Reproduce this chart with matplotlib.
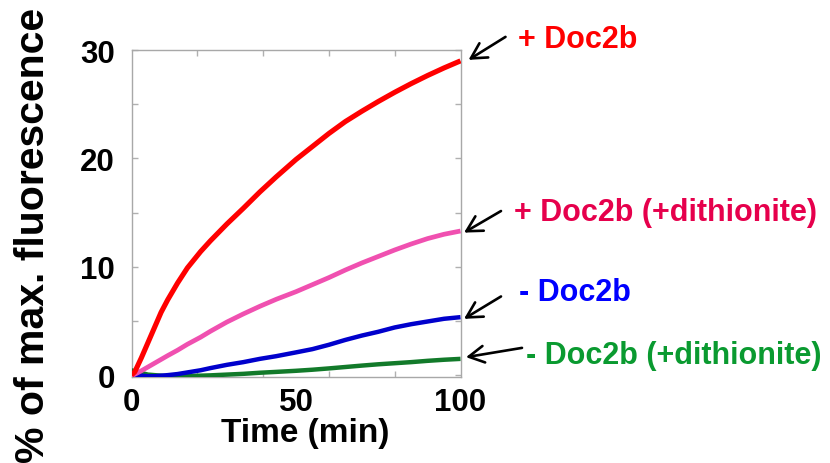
"""
Doc2b fluorescence time course: four traces with arrow labels on the right.
"""

import matplotlib
matplotlib.use("Agg")
import matplotlib.pyplot as plt
from matplotlib.ticker import FixedLocator
from matplotlib.transforms import offset_copy

plt.rcParams["font.family"] = ["Liberation Sans", "DejaVu Sans"]
plt.rcParams["font.weight"] = "bold"

# time points (min)
time_min = [0, 1, 3, 5, 7, 9, 11, 14, 17, 21, 24, 29, 34, 39, 44, 50,
            55, 60, 65, 70, 75, 80, 85, 90, 95, 100]

# % of max. fluorescence
plus_doc2b = [0.0, 0.3, 1.6, 3.0, 4.4, 5.8, 6.95, 8.5, 9.9, 11.4, 12.4, 13.95, 15.4,
              16.9, 18.3, 19.9, 21.1, 22.3, 23.4, 24.35, 25.25, 26.1, 26.9, 27.65, 28.35, 29.0]
plus_doc2b_dith = [0.0, 0.08, 0.4, 0.75, 1.1, 1.45, 1.8, 2.3, 2.85, 3.5, 4.05, 4.9, 5.65,
                   6.35, 7.0, 7.7, 8.35, 9.0, 9.7, 10.35, 10.95, 11.55, 12.1, 12.6, 13.0, 13.3]
minus_doc2b = [0.1, 0.05, -0.05, -0.1, -0.1, -0.05, 0.0, 0.1, 0.25, 0.45, 0.65, 0.95, 1.2,
               1.5, 1.75, 2.1, 2.4, 2.8, 3.25, 3.65, 4.0, 4.4, 4.7, 4.95, 5.2, 5.35]
minus_doc2b_dith = [0.45, 0.35, 0.2, 0.05, 0.0, -0.05, -0.1, -0.1, -0.08, -0.05, -0.02,
                    0.05, 0.12, 0.22, 0.3, 0.4, 0.5, 0.62, 0.75, 0.88, 1.0, 1.1, 1.2,
                    1.32, 1.42, 1.5]

labels = ["+ Doc2b", "+ Doc2b (+dithionite)", "- Doc2b", "- Doc2b (+dithionite)"]

# styling per trace: line colour/width, text colour, arrow head shift, tail offset, text offset (pixels)
line_colors = ["#ff0000", "#f050b0", "#0000cc", "#127a2a"]
line_widths = [3.7, 3.4, 3.2, 3.2]
text_colors = ["#ff0000", "#e6004c", "#0000ff", "#0a9a30"]
head_shift = [(8, 1), (3.5, -1.6), (3.5, -1.7), (5.5, 1.7)]
tail_offset = [(37, 23), (37, 21.6), (37, 22.4), (56, 9.3)]
text_offset = [(57, 14), (53.5, 11), (58.5, 16.7), (65.5, -4)]


def main() -> None:
    fig = plt.figure(figsize=(8.3, 4.64), dpi=100)
    ax = fig.add_axes([131.5 / 830, 85.7 / 464, 329 / 830, 327.8 / 464])

    series = [plus_doc2b, plus_doc2b_dith, minus_doc2b, minus_doc2b_dith]
    for i in [3, 2, 1, 0]:
        ax.plot(time_min, series[i], color=line_colors[i], lw=line_widths[i],
                solid_capstyle="butt", solid_joinstyle="round", zorder=3 + (3 - i))

    ax.set_xlim(0, 100)
    ax.set_ylim(-0.2, 30.05)

    ax.xaxis.set_major_locator(FixedLocator([0, 50, 100]))
    ax.xaxis.set_minor_locator(FixedLocator([20, 40, 60, 80]))
    ax.yaxis.set_major_locator(FixedLocator([0, 10, 20, 30]))
    ax.yaxis.set_minor_locator(FixedLocator([5, 15, 25]))

    ax.tick_params(axis="x", which="major", length=0, pad=7, labelsize=22.5)
    ax.tick_params(axis="y", which="major", length=4, width=1, color="#b0b0b0",
                   direction="in", right=True, pad=12, labelsize=22.5)
    ax.tick_params(which="minor", length=4, width=1, color="#b0b0b0",
                   direction="in", top=True, right=True)
    for lab in ax.get_xticklabels() + ax.get_yticklabels():
        lab.set_fontweight("bold")

    for sp in ax.spines.values():
        sp.set_color("#a8a8a8")
        sp.set_linewidth(1.0)

    ax.set_xlabel("Time (min)", fontsize=24, fontweight="bold", va="center")
    ax.xaxis.set_label_coords(0.527, -0.167)
    ax.set_ylabel("% of max. fluorescence", fontsize=29.5, fontweight="bold", va="center")
    ax.yaxis.set_label_coords(-0.30, 0.437)

    # arrows and labels hanging off the end of each trace
    for i, vals in enumerate(series):
        end = (time_min[-1], vals[-1])
        head_tr = offset_copy(ax.transData, fig=fig, x=head_shift[i][0],
                              y=head_shift[i][1], units="dots")
        ax.annotate("", xy=end, xycoords=head_tr,
                    xytext=tail_offset[i], textcoords="offset pixels",
                    arrowprops=dict(arrowstyle="->,head_length=0.55,head_width=0.3",
                                    color="black", lw=1.9, shrinkA=0, shrinkB=0,
                                    mutation_scale=20),
                    annotation_clip=False)
        ax.annotate(labels[i], xy=end, xycoords="data",
                    xytext=text_offset[i], textcoords="offset pixels",
                    ha="left", va="baseline", fontsize=22, fontweight="bold",
                    color=text_colors[i], annotation_clip=False)

    fig.savefig("out.png", dpi=100)
    plt.close(fig)


if __name__ == "__main__":
    main()
